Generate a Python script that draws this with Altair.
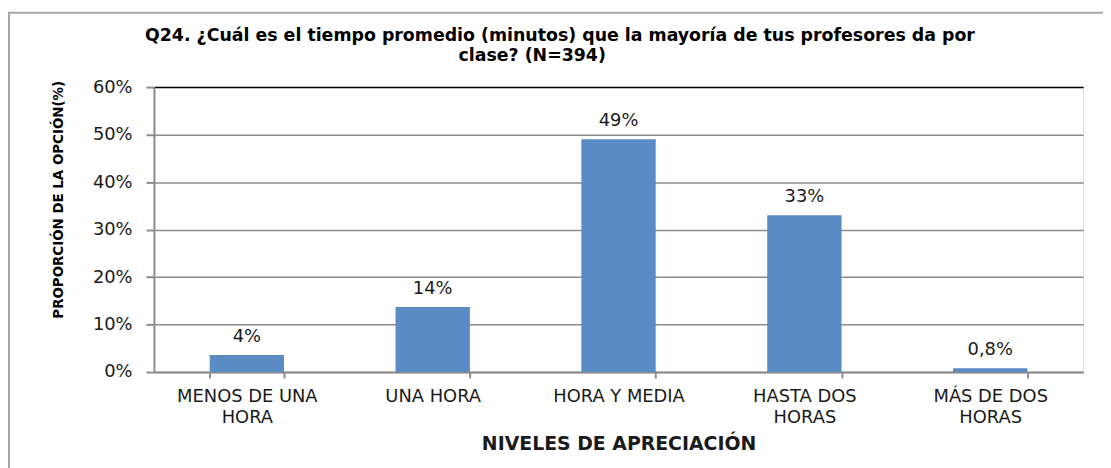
import altair as alt
import pandas as pd

categories = ["MENOS DE UNA|HORA", "UNA HORA", "HORA Y MEDIA", "HASTA DOS|HORAS", "MÁS DE DOS|HORAS"]
values = [0.036, 0.137, 0.490, 0.330, 0.008]
value_labels = ["4%", "14%", "49%", "33%", "0,8%"]
y_ticks = [0, 0.1, 0.2, 0.3, 0.4, 0.5, 0.6]

title_line1 = "Q24. ¿Cuál es el tiempo promedio (minutos) que la mayoría de tus profesores da por"
title_line2 = "clase? (N=394)"
x_title = "NIVELES DE APRECIACIÓN"
y_title = "PROPORCIÓN DE LA OPCIÓN(%)"

df = pd.DataFrame({"cat": categories, "val": values, "lab": value_labels})

W, H = 936, 287
PAD = {"left": 147, "top": 78, "right": 20, "bottom": 95}
TXT = "#1a1a1a"
FONT = "DejaVu Sans"

x_enc = alt.X(
    "cat:N", sort=categories,
    scale=alt.Scale(paddingInner=0.6, paddingOuter=0.3),
    axis=alt.Axis(
        title=x_title, labelExpr="split(datum.label, '|')",
        labelAngle=0, labelFont=FONT, labelFontSize=18, labelColor=TXT,
        labelLineHeight=21, labelPadding=10, labelBaseline="top",
        tickBand="extent", tickSize=6, tickColor="#8c8c8c", tickWidth=2,
        domainColor="#8c8c8c", domainWidth=2,
        titleFont=FONT, titleFontSize=19, titleFontWeight="bold", titleColor=TXT,
        titleY=78, titleBaseline="alphabetic",
    ),
)
y_enc = alt.Y(
    "val:Q",
    scale=alt.Scale(domain=[0, 0.6], nice=False),
    axis=alt.Axis(
        title=y_title, values=y_ticks, format=".0%",
        labelFont=FONT, labelFontSize=18, labelColor=TXT, labelPadding=14,
        tickSize=8, tickColor="#8c8c8c", tickWidth=2,
        domainColor="#8c8c8c", domainWidth=2,
        gridColor={"condition": {"test": "datum.value >= 0.6", "value": "#000000"}, "value": "#8c8c8c"},
        gridWidth=1.5,
        titleFont=FONT, titleFontSize=13.5, titleFontWeight="bold", titleColor="#000000",
        titleX=-92, titleY=113, titleAlign="center", titleBaseline="alphabetic", titleAngle=270,
    ),
)

bars = alt.Chart(df).mark_bar(color="#5b8bc4").encode(x=x_enc, y=y_enc)

labels = alt.Chart(df).mark_text(
    font=FONT, fontSize=18, color=TXT, baseline="alphabetic", dy=-13
).encode(x=alt.X("cat:N", sort=categories), y="val:Q", text="lab:N")

title_style = dict(font=FONT, fontSize=17.5, fontWeight="bold", color="#000000",
                   align="center", baseline="alphabetic")
title1 = alt.Chart(df.head(1)).mark_text(**title_style).encode(
    x=alt.value(409), y=alt.value(-46), text=alt.value(title_line1)
)
title2 = alt.Chart(df.head(1)).mark_text(**title_style).encode(
    x=alt.value(381), y=alt.value(-26), text=alt.value(title_line2)
)

frame_top = alt.Chart(df.head(1)).mark_rule(color="#a6a6a6", strokeWidth=2).encode(
    x=alt.value(-147), x2=alt.value(960), y=alt.value(-75)
)
frame_left = alt.Chart(df.head(1)).mark_rule(color="#a6a6a6", strokeWidth=2).encode(
    x=alt.value(-146), y=alt.value(-75), y2=alt.value(390)
)

chart = alt.layer(bars, labels, title1, title2, frame_top, frame_left).properties(
    width=W, height=H,
    autosize=alt.AutoSizeParams(type="none"),
    padding=PAD,
).configure_view(stroke="#000000", strokeWidth=1.5).configure(background="white")

chart.save("out.html", embed_options={"renderer": "svg", "actions": False})
